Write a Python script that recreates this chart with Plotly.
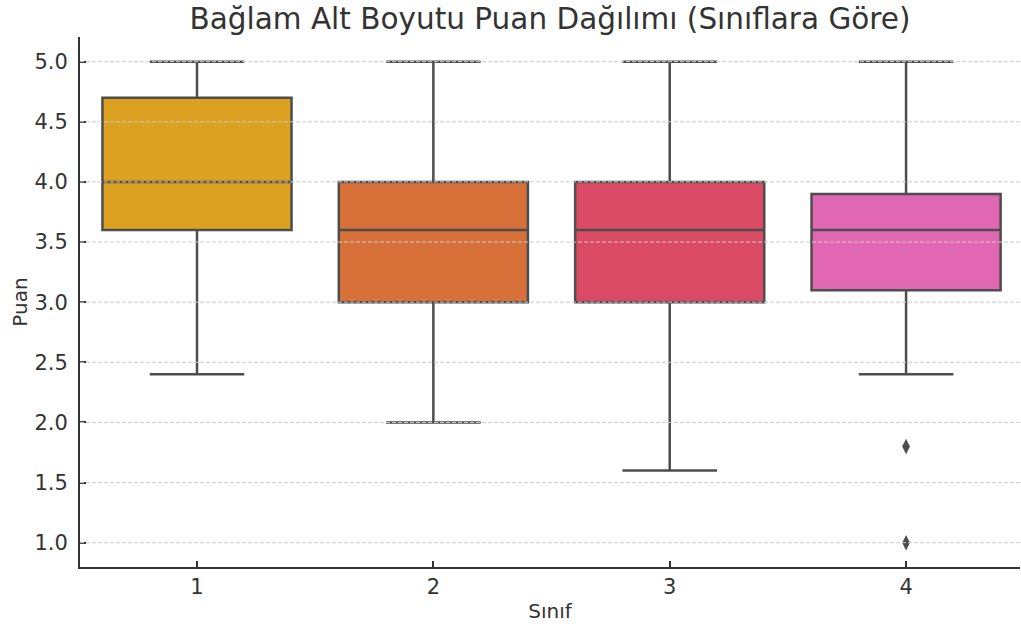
import plotly.graph_objects as go

categories = ["1", "2", "3", "4"]
lower_whisker = [2.4, 2.0, 1.6, 2.4]
q1_values = [3.6, 3.0, 3.0, 3.1]
median_values = [4.0, 3.6, 3.6, 3.6]
q3_values = [4.7, 4.0, 4.0, 3.9]
upper_whisker = [5.0, 5.0, 5.0, 5.0]
box_colors = ["#DDA122", "#D8703A", "#DA4A65", "#E167B3"]
outlier_category = ["4", "4"]
outlier_values = [1.8, 1.0]
y_ticks = [1.0, 1.5, 2.0, 2.5, 3.0, 3.5, 4.0, 4.5, 5.0]

line_gray = "#4d4d4d"
text_color = "#333333"
font_family = "DejaVu Sans"

fig = go.Figure()
for i, cat in enumerate(categories):
    fig.add_trace(go.Box(
        x=[cat],
        q1=[q1_values[i]],
        median=[median_values[i]],
        q3=[q3_values[i]],
        lowerfence=[lower_whisker[i]],
        upperfence=[upper_whisker[i]],
        fillcolor=box_colors[i],
        line=dict(color=line_gray, width=2.5),
        width=0.8,
        whiskerwidth=0.5,
        boxpoints=False,
        showlegend=False,
        hoverinfo="skip",
    ))

fig.add_trace(go.Scatter(
    x=outlier_category,
    y=outlier_values,
    mode="markers",
    marker=dict(symbol="diamond-tall", size=11, color=line_gray),
    showlegend=False,
))

for v in y_ticks:
    fig.add_shape(
        type="line", xref="paper", yref="y", x0=0, x1=1, y0=v, y1=v,
        line=dict(color="#cccccc", width=1, dash="4px,2px"), layer="above",
    )

fig.update_layout(
    width=1021,
    height=631,
    margin=dict(l=80, r=1, t=37, b=64, autoexpand=False),
    paper_bgcolor="white",
    plot_bgcolor="white",
    boxmode="overlay",
    font=dict(family=font_family, color=text_color, size=21),
    title=dict(
        text="Bağlam Alt Boyutu Puan Dağılımı (Sınıflara Göre)",
        x=0.5, xref="paper", xanchor="center",
        y=1 - 19 / 631, yref="container", yanchor="middle",
        font=dict(size=29.5, color=text_color, family=font_family),
        automargin=False,
    ),
    xaxis=dict(
        type="category",
        categoryorder="array",
        categoryarray=categories,
        range=[-0.495, 3.482],
        automargin=False,
        showgrid=False,
        zeroline=False,
        showline=True,
        linecolor="#333333",
        linewidth=2,
        ticks="inside",
        ticklen=6,
        tickwidth=1.5,
        tickcolor="#333333",
        tickfont=dict(size=21, color=text_color),
        title=dict(text="Sınıf", font=dict(size=20, color=text_color), standoff=6),
    ),
    yaxis=dict(
        range=[0.798, 5.205],
        tickvals=y_ticks,
        ticktext=[f"{v:.1f}" for v in y_ticks],
        automargin=False,
        showgrid=False,
        zeroline=False,
        showline=True,
        linecolor="#333333",
        linewidth=2,
        ticks="inside",
        ticklen=6,
        tickwidth=1.5,
        tickcolor="#333333",
        ticklabelstandoff=6,
        tickfont=dict(size=21, color=text_color),
        title=dict(text="Puan", font=dict(size=20, color=text_color), standoff=1),
    ),
)

fig.write_html(
    "out.html",
    config={"displayModeBar": False},
    post_script="document.body.style.margin='0';document.body.style.padding='0';",
)
